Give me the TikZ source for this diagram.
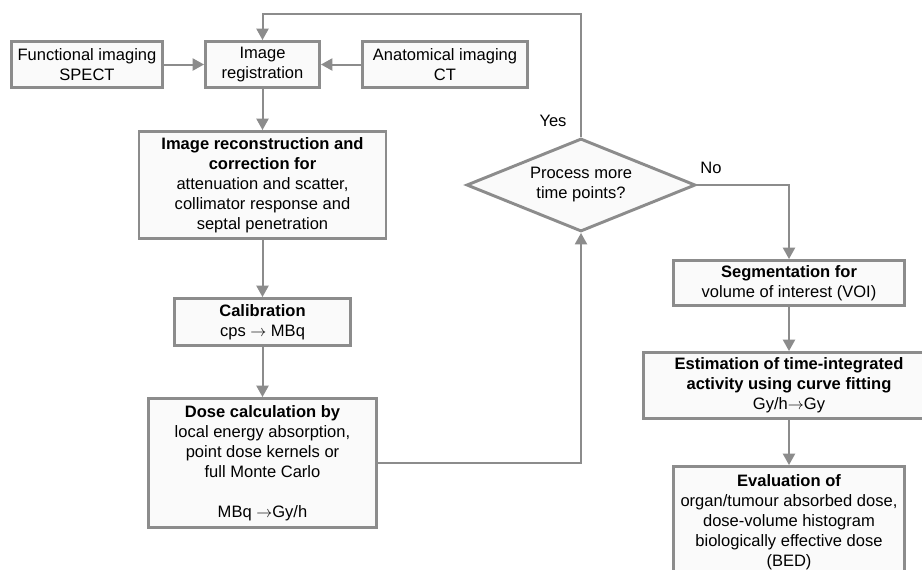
\documentclass[tikz,border=0pt]{standalone}
\usepackage{fontspec}
\setmainfont{Liberation Sans}
\usetikzlibrary{shapes.geometric,arrows.meta}
\definecolor{lg}{RGB}{140,140,140}
\definecolor{bf}{RGB}{250,250,250}
\newcommand{\rarr}{\ensuremath{\rightarrow}}
\begin{document}
\begin{tikzpicture}[x=0.75pt,y=-0.75pt,
 box/.style={draw=lg,fill=bf,line width=2.2pt,align=center,inner sep=0pt,font=\fontsize{12.4}{15}\selectfont},
 decis/.style={diamond,draw=lg,fill=bf,line width=2.2pt,align=center,inner sep=0pt,shape aspect=2.4,font=\fontsize{12.4}{15}\selectfont},
 conn/.style={draw=lg,line width=1.5pt,-{Triangle[length=8.5pt,width=9pt]}},
 lbl/.style={font=\fontsize{12.4}{15}\selectfont}]
\useasboundingbox (0,0) rectangle (922,569);
\node[box,minimum width=113.3pt,minimum height=34.5pt] (func) at (87,64.5) {Functional imaging\\SPECT};
\node[box,minimum width=85.5pt,minimum height=34.5pt] (reg) at (262.5,64.5) {Image\\registration};
\node[box,minimum width=123.75pt,minimum height=34.5pt] (anat) at (445,64.5) {Anatomical imaging\\CT};
\node[box,minimum width=185.25pt,minimum height=80.25pt] (recon) at (262.5,185) {\textbf{Image reconstruction and}\\\textbf{correction for}\\attenuation and scatter,\\collimator response and\\septal penetration};
\node[box,minimum width=132pt,minimum height=35.25pt] (calib) at (262.5,322) {\textbf{Calibration}\\cps \rarr{} MBq};
\node[box,minimum width=171pt,minimum height=96.75pt] (dose) at (262.5,463) {\textbf{Dose calculation by}\\local energy absorption,\\point dose kernels or\\full Monte Carlo\\[15pt]MBq \rarr{}Gy/h};
\node[decis,minimum width=171.75pt,minimum height=69.75pt] (dec) at (581,185) {Process more\\time points?};
\node[box,minimum width=173.25pt,minimum height=33.75pt] (seg) at (789,283) {\textbf{Segmentation for}\\volume of interest (VOI)};
\node[box,minimum width=218.25pt,minimum height=49.5pt] (est) at (789,385.5) {\textbf{Estimation of time-integrated}\\\textbf{activity using curve fitting}\\Gy/h\rarr{}Gy};
\node[box,minimum width=173.25pt,minimum height=83.25pt] (eval) at (789,522) {\textbf{Evaluation of}\\organ/tumour absorbed dose,\\dose-volume histogram\\biologically effective dose\\(BED)};
\coordinate (yr) at (581,14);
\coordinate (yl) at (262.5,14);
\draw[conn] (func) -- (reg);
\draw[conn] (anat) -- (reg);
\draw[conn] (reg) -- (recon);
\draw[conn] (recon) -- (calib);
\draw[conn] (calib) -- (dose);
\draw[conn] (dose.east) -| (dec.south);
\draw[conn] (dec.north) -- (yr) -- (yl) -- (reg.north);
\draw[conn] (dec.east) -| (seg.north);
\draw[conn] (seg) -- (est);
\draw[conn] (est) -- (eval);
\node[lbl] (yes) at (553,121) {Yes};
\node[lbl] (no) at (711,168) {No};
\end{tikzpicture}
\end{document}
